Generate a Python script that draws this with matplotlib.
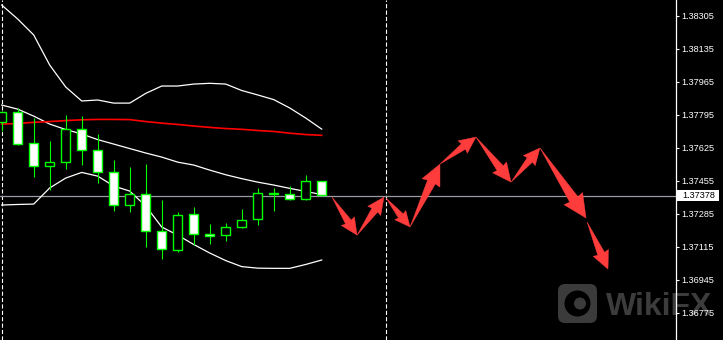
import numpy as np
import matplotlib
matplotlib.use('Agg')
import matplotlib.pyplot as plt
from matplotlib.patches import Rectangle, Polygon, FancyBboxPatch, Circle
from matplotlib.transforms import IdentityTransform

plt.rcParams['lines.scale_dashes'] = False
plt.rcParams['font.family'] = ['Liberation Sans', 'DejaVu Sans']

# ---------------- data ----------------
bars = list(range(21))
opens  = [1.37759, 1.37807, 1.37648, 1.37529, 1.37550, 1.37720, 1.37612, 1.37498, 1.37328, 1.37385,
          1.37194, 1.37097, 1.37282, 1.37179, 1.37174, 1.37215, 1.37256, 1.37385, 1.37385, 1.37359, 1.37452]
highs  = [1.37812, 1.37831, 1.37777, 1.37660, 1.37794, 1.37788, 1.37696, 1.37562, 1.37526, 1.37541,
          1.37356, 1.37295, 1.37320, 1.37232, 1.37237, 1.37309, 1.37417, 1.37417, 1.37428, 1.37484, 1.37455]
lows   = [1.37713, 1.37641, 1.37476, 1.37405, 1.37515, 1.37536, 1.37442, 1.37301, 1.37295, 1.37115,
          1.37052, 1.37089, 1.37122, 1.37131, 1.37146, 1.37210, 1.37225, 1.37301, 1.37355, 1.37355, 1.37375]
closes = [1.37807, 1.37643, 1.37529, 1.37550, 1.37720, 1.37612, 1.37498, 1.37328, 1.37385, 1.37194,
          1.37102, 1.37277, 1.37179, 1.37169, 1.37215, 1.37251, 1.37390, 1.37390, 1.37359, 1.37452, 1.37380]

band_upper = [1.38360, 1.38288, 1.38206, 1.38051, 1.37938, 1.37866, 1.37871, 1.37855, 1.37855, 1.37905,
              1.37943, 1.37943, 1.37953, 1.37957, 1.37953, 1.37920, 1.37897, 1.37873, 1.37830, 1.37778, 1.37721]
band_middle = [1.37845, 1.37824, 1.37788, 1.37747, 1.37719, 1.37696, 1.37667, 1.37644, 1.37621, 1.37598,
               1.37577, 1.37551, 1.37536, 1.37510, 1.37486, 1.37466, 1.37448, 1.37433, 1.37416, 1.37400, 1.37384]
band_lower = [1.37330, 1.37333, 1.37335, 1.37418, 1.37469, 1.37498, 1.37479, 1.37428, 1.37402, 1.37325,
              1.37217, 1.37175, 1.37127, 1.37083, 1.37044, 1.37013, 1.37005, 1.37004, 1.37004, 1.37024, 1.37047]
ma_red = [1.37747, 1.37750, 1.37756, 1.37760, 1.37765, 1.37769, 1.37771, 1.37771, 1.37770, 1.37760,
          1.37752, 1.37745, 1.37737, 1.37730, 1.37724, 1.37720, 1.37714, 1.37709, 1.37700, 1.37693, 1.37689]

# forecast arrow paths (bar position, price)
path1_bars = [20.64, 22.21, 23.89]
path1_prices = [1.37371, 1.37175, 1.37371]
path2_bars = [24.02, 25.52, 27.39, 29.64, 31.83, 33.64, 36.52]
path2_prices = [1.37366, 1.37217, 1.37541, 1.37680, 1.37448, 1.37624, 1.37263]
path3_bars = [36.58, 37.89]
path3_prices = [1.37243, 1.37000]

price_ticks = [1.36775, 1.36945, 1.37115, 1.37285, 1.37455, 1.37625, 1.37795, 1.37965, 1.38135, 1.38305]
current_price = 1.37378
separators = [0, 24]

# ---------------- figure ----------------
W, H = 723, 340
fig = plt.figure(figsize=(W / 100, H / 100), dpi=100, facecolor='black')
ax = fig.add_axes([0, 0, 676 / W, 1])
ax.set_facecolor('none')
ax.set_xlim(-0.106, 42.14)
ax.set_ylim(1.36635, 1.38386)

# watermark (behind everything)
logo = FancyBboxPatch((558, H - 323), 39, 39, boxstyle='round,pad=0,rounding_size=7',
                      transform=IdentityTransform(), facecolor='#3b3b3b', edgecolor='none', zorder=-2)
fig.add_artist(logo)
c1 = Circle((577.5, H - 303.5), 13, transform=IdentityTransform(), facecolor='black', edgecolor='none', zorder=-1)
fig.add_artist(c1)
c2 = Circle((580, H - 303.5), 6, transform=IdentityTransform(), facecolor='#3b3b3b', edgecolor='none', zorder=-1)
fig.add_artist(c2)
fig.text(606 / W, 25 / H, 'WikiFX', color='#3c3c3c', fontsize=23, fontweight='bold',
         family='Liberation Sans', ha='left', va='baseline', zorder=-1)

# separators & current price line
for s in separators:
    ax.axvline(s, color='white', lw=0.8, linestyle=(0, (3, 1.6)), zorder=2)
ax.axhline(current_price, color='#9a9aa2', lw=0.9, zorder=2)

# bands and MA
ax.plot(bars, band_upper, color='white', lw=0.9, zorder=3)
ax.plot(bars, band_middle, color='white', lw=0.9, zorder=3)
ax.plot(bars, band_lower, color='white', lw=0.9, zorder=3)
ax.plot(bars, ma_red, color='#ff0000', lw=1.2, zorder=3)

# candles
bw = 0.56
for i, o, h, l, c in zip(bars, opens, highs, lows, closes):
    ax.vlines(i, l, h, color='#00ff00', lw=0.8, zorder=4)
    bottom = min(o, c)
    height = max(abs(c - o), 0.00002)
    fc = 'white' if c < o else 'black'
    ax.add_patch(Rectangle((i - bw / 2, bottom), bw, height, facecolor=fc,
                           edgecolor='#00ff00', lw=1.0, zorder=5))

# arrows in display pixels
def draw_arrow(p0, p1):
    t = ax.transData.transform(p0)
    p = ax.transData.transform(p1)
    d = p - t
    L = np.hypot(*d)
    u = d / L
    n = np.array([-u[1], u[0]])
    hl = 8 + 0.17 * L
    hw = 0.5 * hl
    bwid = 0.22 * hl
    b = p - u * hl
    pts = [t, b + n * bwid, b + n * hw - u * 1.0, p, b - n * hw - u * 1.0, b - n * bwid]
    ax.add_patch(Polygon(pts, closed=True, transform=IdentityTransform(), facecolor='#ff3c3c',
                         edgecolor='#ff3c3c', lw=0.3, zorder=6))

for xs, ys in [(path1_bars, path1_prices), (path2_bars, path2_prices), (path3_bars, path3_prices)]:
    for k in range(len(xs) - 1):
        draw_arrow((xs[k], ys[k]), (xs[k + 1], ys[k + 1]))

# axes styling
for side in ['left', 'top', 'bottom']:
    ax.spines[side].set_visible(False)
ax.spines['right'].set_color('white')
ax.spines['right'].set_linewidth(0.9)
ax.set_xticks([])
ax.yaxis.tick_right()
ax.set_yticks(price_ticks)
ax.set_yticklabels([f'{t:.5f}' for t in price_ticks])
ax.tick_params(axis='y', colors='white', length=2, width=0.8, pad=2.2, labelsize=6.6, direction='out')

# current price label
ax.add_patch(Rectangle((1.001, current_price - 0.000275), 42 / 676, 0.00055, transform=ax.get_yaxis_transform(),
                       facecolor='white', edgecolor='none', clip_on=False, zorder=10))
ax.text(1 + 6 / 676, current_price, f'{current_price:.5f}', transform=ax.get_yaxis_transform(),
        color='black', fontsize=6.6, va='center', ha='left', clip_on=False, zorder=11)

fig.savefig('out.png', dpi=100, facecolor='black')
